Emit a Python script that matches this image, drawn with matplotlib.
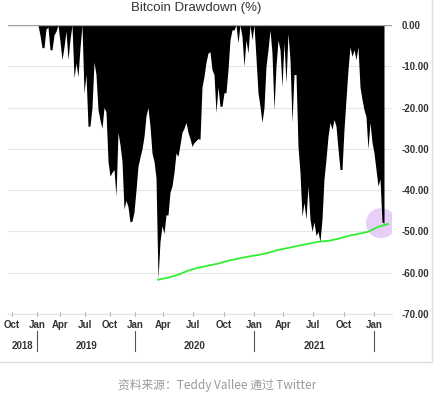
import numpy as np
import matplotlib.pyplot as plt

# drawdown (%) per bar, Oct 2018 -> Jan 2022
drawdown = [
    0, 0, 0, 0, 0, 0, 0, 0, 0, 0, 0, 0, 0, 0,
    -2.5, -5.5, -5.5, -1.0, -0.5, -6.0, -6.0, -2.4, -1.5, 0,
    -4.0, -8.4, -5.3, -1.5, -8.4, -3.5, 0, -12.8, -9.2, -12.5,
    -5.5, 0, -16.5, -12.0, -24.5, -24.5, -20.0, -9.0, -12.0, -20.5,
    -23.0, -25.0, -20.0, -21.0, -33.0, -36.6, -35.7, -35.0, -41.4, -26.0,
    -29.0, -33.0, -44.6, -42.5, -44.0, -47.7, -47.5, -45.3, -40.0, -34.2,
    -32.0, -30.0, -27.0, -22.0, -20.0, -24.5, -31.0, -33.0, -37.0, -61.5,
    -52.5, -48.6, -50.5, -46.0, -46.0, -40.5, -39.0, -35.7, -31.0, -31.8,
    -29.0, -26.0, -25.0, -23.6, -26.0, -27.5, -29.4, -28.5, -28.0, -27.5,
    -27.7, -15.0, -12.5, -9.0, -6.8, -6.5, -10.8, -12.0, -21.2, -15.0,
    -19.7, -19.7, -16.4, -16.4, -10.8, -3.6, -1.2, -1.2, 0, -4.3,
    0, -2.8, -10.0, -3.6, -6.8, 0, -3.6, 0, -8.0, -16.4,
    -19.7, -23.6, -20.0, -10.0, -6.0, -1.2, -6.8, -20.5, -10.0, -3.6,
    -6.0, -14.9, -4.3, -14.0, -2.0, -8.4, -23.6, -12.0, -12.0, -29.4,
    -35.7, -46.3, -43.0, -47.0, -39.0, -47.0, -50.0, -47.7, -51.0, -50.0,
    -52.5, -47.0, -37.3, -32.5, -27.0, -23.6, -25.3, -22.9, -24.5, -30.0,
    -35.0, -35.0, -25.3, -18.0, -10.8, -5.3, -7.6, -6.0, -8.4, -5.3,
    -15.0, -18.0, -20.5, -22.2, -30.0, -23.6, -28.4, -31.0, -35.0, -39.0,
    -37.3, -47.7, -48.0,
]

# green line, from the March 2020 low, one point every 5 bars
trend_start = 73
trend_step = 5
trend = [-61.7, -61.2, -60.5, -59.5, -58.8, -58.3, -57.8, -57.1, -56.6, -56.1,
         -55.7, -55.2, -54.5, -54.0, -53.5, -53.0, -52.5, -52.3, -51.8, -51.1,
         -50.6, -50.1, -48.9, -48.2]

quarter_labels = ['Oct', 'Jan', 'Apr', 'Jul', 'Oct', 'Jan', 'Apr', 'Jul',
                  'Oct', 'Jan', 'Apr', 'Jul', 'Oct', 'Jan']
quarter_idx = [0, 12.5, 24, 36.5, 49, 61.5, 75.5, 90.5, 106, 121, 135.5, 150.5, 166, 181]
years = ['2018', '2019', '2020', '2021']
highlight = (184.5, -48)

x = np.arange(len(drawdown))
tx = trend_start + trend_step * np.arange(len(trend))

fig = plt.figure(figsize=(4.34, 3.97), dpi=100)
ax = fig.add_axes([8 / 434, 1 - 314 / 397, 384 / 434, 289 / 397])

ax.fill_between(x, drawdown, 0, color='black', lw=0, zorder=2)
ax.plot(tx, trend, color='#33ee33', lw=1.3, zorder=3)
ax.scatter([highlight[0]], [highlight[1]], s=470, color='#e8cff7', edgecolors='none', zorder=1)
ax.axhline(0, color='#a0a0a0', lw=1, zorder=4)

ax.set_xlim(-2, 190)
ax.set_ylim(-70, 0)
for s in ['top', 'left', 'right']:
    ax.spines[s].set_visible(False)
ax.spines['bottom'].set_color('#e2e2e2')
ax.grid(axis='y', color='#e6e6e6', lw=0.8, zorder=0)
ax.set_axisbelow(True)

lab_font = dict(family='Liberation Sans', weight='bold', size=7, color='#333333')
ax.yaxis.tick_right()
ax.set_yticks(range(-70, 1, 10))
ax.set_yticklabels(['%.2f' % v for v in range(-70, 1, 10)], **lab_font)
ax.tick_params(axis='y', length=0, pad=7)

ax.set_xticks(quarter_idx)
ax.set_xticklabels(quarter_labels, **lab_font)
ax.tick_params(axis='x', length=3, color='#999999', direction='inout', pad=3)

# year row with separators at each January
jan = [q for q, l in zip(quarter_idx, quarter_labels) if l == 'Jan']
bounds = [ax.get_xlim()[0]] + jan
tr = ax.get_xaxis_transform()
for i, y in enumerate(years):
    ax.text((bounds[i] + bounds[i + 1]) / 2, -0.11, y, transform=tr,
            ha='center', va='center', **lab_font)
for j in jan:
    ax.plot([j, j], [-0.06, -0.128], transform=tr, color='#555555', lw=0.8, clip_on=False)

fig.text(196 / 434, 1 - 8 / 397, 'Bitcoin Drawdown (%)', ha='center', va='center',
         family='Liberation Sans', size=9.5, color='#333333')

# frame of the chart image (only right and bottom edges show)
fig.patches.append(plt.Rectangle((-0.01, 1 - 362 / 397), 432 / 434 + 0.01, 1.0,
                                 transform=fig.transFigure, fill=False,
                                 edgecolor='#dddddd', lw=1))

fig.text(217 / 434, 1 - 385 / 397, '资料来源：Teddy Vallee 通过 Twitter', ha='center', va='center',
         family=['Noto Sans CJK SC', 'DejaVu Sans'], size=8.5, color='#9a9a9a')

fig.savefig('out.png', dpi=100, facecolor='white')
